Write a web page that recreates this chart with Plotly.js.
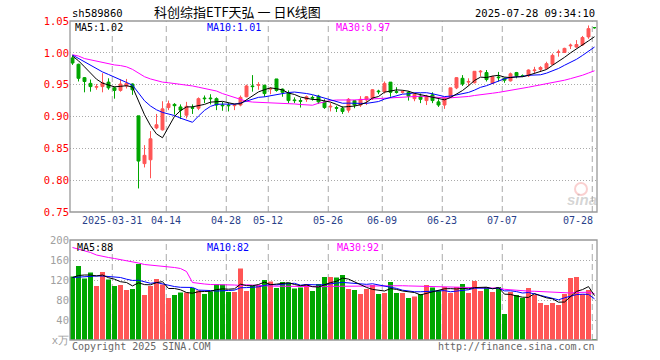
<!DOCTYPE html>
<html><head><meta charset="utf-8">
<script src="https://cdn.plot.ly/plotly-3.0.1.min.js"></script>
<style>html,body{margin:0;padding:0;background:#fff}#chart{width:660px;height:360px}</style>
</head><body><div id="chart"></div>
<script>
// ---------- data ----------
const dates = ['2025-03-20','2025-03-21','2025-03-24','2025-03-25','2025-03-26','2025-03-27','2025-03-28','2025-03-31','2025-04-01','2025-04-02',
'2025-04-03','2025-04-07','2025-04-08','2025-04-09','2025-04-10','2025-04-11','2025-04-14','2025-04-15','2025-04-16','2025-04-17',
'2025-04-18','2025-04-21','2025-04-22','2025-04-23','2025-04-24','2025-04-25','2025-04-28','2025-04-29','2025-04-30','2025-05-06',
'2025-05-07','2025-05-08','2025-05-09','2025-05-12','2025-05-13','2025-05-14','2025-05-15','2025-05-16','2025-05-19','2025-05-20',
'2025-05-21','2025-05-22','2025-05-23','2025-05-26','2025-05-27','2025-05-28','2025-05-29','2025-05-30','2025-06-03','2025-06-04',
'2025-06-05','2025-06-06','2025-06-09','2025-06-10','2025-06-11','2025-06-12','2025-06-13','2025-06-16','2025-06-17','2025-06-18',
'2025-06-19','2025-06-20','2025-06-23','2025-06-24','2025-06-25','2025-06-26','2025-06-27','2025-06-30','2025-07-01','2025-07-02',
'2025-07-03','2025-07-04','2025-07-07','2025-07-08','2025-07-09','2025-07-10','2025-07-11','2025-07-14','2025-07-15','2025-07-16',
'2025-07-17','2025-07-18','2025-07-21','2025-07-22','2025-07-23','2025-07-24','2025-07-25','2025-07-28'];

const openP = [0.992,0.982,0.961,0.952,0.946,0.947,0.954,0.945,0.941,0.948,
0.951,0.901,0.826,0.832,0.882,0.879,0.914,0.919,0.915,0.902,
0.914,0.913,0.929,0.929,0.928,0.918,0.918,0.917,0.918,0.931,
0.948,0.949,0.949,0.943,0.959,0.943,0.937,0.926,0.925,0.927,
0.930,0.932,0.923,0.915,0.914,0.913,0.910,0.925,0.918,0.926,
0.929,0.940,0.939,0.954,0.939,0.938,0.938,0.928,0.932,0.925,
0.934,0.923,0.918,0.931,0.945,0.960,0.954,0.953,0.970,0.969,
0.952,0.962,0.960,0.956,0.969,0.964,0.964,0.972,0.974,0.9755,
0.982,1.0005,1.0005,1.011,1.009,1.0125,1.025,1.0397];

const highP = [0.996,0.983,0.962,0.958,0.951,0.968,0.960,0.947,0.958,0.959,
0.952,0.901,0.855,0.877,0.904,0.924,0.925,0.921,0.919,0.923,
0.919,0.930,0.933,0.935,0.930,0.923,0.922,0.920,0.933,0.950,
0.965,0.954,0.950,0.946,0.959,0.944,0.941,0.930,0.929,0.933,
0.933,0.934,0.927,0.921,0.917,0.916,0.929,0.926,0.932,0.932,
0.943,0.942,0.955,0.954,0.946,0.941,0.940,0.937,0.936,0.934,
0.938,0.927,0.930,0.945,0.962,0.965,0.960,0.971,0.973,0.973,
0.964,0.970,0.961,0.969,0.970,0.966,0.974,0.978,0.979,0.986,
0.999,1.005,1.008,1.0145,1.020,1.0265,1.043,1.0405];

const lowP = [0.981,0.955,0.938,0.939,0.942,0.938,0.942,0.928,0.939,0.944,
0.934,0.787,0.820,0.803,0.880,0.878,0.910,0.903,0.896,0.897,
0.904,0.910,0.921,0.919,0.910,0.909,0.908,0.910,0.916,0.930,
0.939,0.942,0.931,0.935,0.939,0.931,0.921,0.921,0.914,0.923,
0.925,0.920,0.912,0.908,0.907,0.904,0.906,0.913,0.915,0.918,
0.926,0.935,0.936,0.931,0.936,0.936,0.925,0.924,0.921,0.918,
0.921,0.915,0.912,0.930,0.943,0.948,0.948,0.952,0.963,0.955,
0.951,0.955,0.953,0.955,0.960,0.962,0.962,0.968,0.970,0.974,
0.981,0.994,1.000,1.006,1.008,1.011,1.022,1.038];

const closeP = [0.984,0.960,0.955,0.947,0.947,0.953,0.945,0.941,0.951,0.952,
0.942,0.830,0.839,0.865,0.887,0.912,0.920,0.917,0.910,0.916,
0.913,0.928,0.928,0.928,0.918,0.917,0.917,0.918,0.930,0.948,
0.947,0.950,0.936,0.944,0.941,0.938,0.925,0.925,0.924,0.931,
0.929,0.923,0.914,0.916,0.913,0.908,0.927,0.918,0.927,0.931,
0.942,0.939,0.952,0.938,0.938,0.939,0.932,0.935,0.927,0.932,
0.925,0.918,0.929,0.945,0.961,0.951,0.955,0.971,0.971,0.958,
0.9625,0.961,0.957,0.967,0.964,0.963,0.973,0.973,0.977,0.983,
0.996,1.0015,1.007,1.012,1.013,1.024,1.038,1.0395];

// volume, 万 units
const volume = [127,148,123,135,108,136,121,108,110,100,
102,152,90,108,122,111,84,90,95,95,
104,99,92,97,112,111,96,96,143,98,
109,109,120,117,104,116,115,103,105,112,
98,112,126,126,125,130,102,100,92,102,
110,92,94,116,94,94,84,87,92,110,
105,99,106,94,106,112,94,118,98,106,
96,106,52,96,90,84,104,90,74,70,
74,70,92,124,126,92,100,2];

const ma5Head  = [0.995,0.9875,0.978,0.969];
const ma10Head = [0.9965,0.991,0.986,0.980,0.975,0.970,0.966,0.9615,0.957];
const ma30Head = [0.997,0.995,0.991,0.989,0.987,0.984,0.983,0.981,0.980,0.978,
0.974,0.968,0.9625,0.959,0.956,0.954,0.953,0.952,0.951,0.950,
0.948,0.946,0.944,0.942,0.940,0.936,0.933,0.930,0.927];
const vma5Head  = [125,129,130,130];
const vma10Head = [125,126,126,127,128,128,127,126,125];
const vma30Head = [185,182,179,175,170,167,165,163,161,158,
156,154,151,150,149,147,146,145,143,137,
115,113,112,111,111,111,110,110,109];

const tickDates  = ['2025-03-31','2025-04-14','2025-04-28','2025-05-12','2025-05-26','2025-06-09','2025-06-23','2025-07-07','2025-07-28'];
const tickLabels = ['2025-03-31','04-14','04-28','05-12','05-26','06-09','06-23','07-07','07-28'];
const priceTicks = [0.75,0.80,0.85,0.90,0.95,1.00,1.05];
const volTicks = [0,40,80,120,160,200];
const volTickText = ['x万','40','80','120','160','200'];

// legend texts as printed on the picture
const priceMaLabels = ['MA5:1.02','MA10:1.01','MA30:0.97'];
const volMaLabels = ['MA5:88','MA10:82','MA30:92'];

const code = 'sh589860';
const titleText = '科创综指ETF天弘 一 日K线图';
const stamp = '2025-07-28 09:34:10';

// ---------- helpers ----------
function movAvg(arr, n, head){
  return arr.map((v,i)=>{
    if(i < n-1) return head[i];
    let s=0; for(let k=i-n+1;k<=i;k++) s+=arr[k];
    return s/n;
  });
}
const idx = dates.map((d,i)=>i);
const ma5 = movAvg(closeP,5,ma5Head), ma10 = movAvg(closeP,10,ma10Head), ma30 = movAvg(closeP,30,ma30Head);
const vma5 = movAvg(volume,5,vma5Head), vma10 = movAvg(volume,10,vma10Head), vma30 = movAvg(volume,30,vma30Head);

const RED='#ff5555', GREEN='#00a600';
const W=660,H=360;
const px=v=>v/W, py=v=>1-v/H;
const X0=70, X1=597, PT=21, PB=212, VT=240, VB=340;
const xr=[-0.4167, 87.4167];
const MONO='DejaVu Sans Mono, monospace';

const volColors = idx.map(i=> closeP[i]>=openP[i] ? RED : GREEN);

const traces = [
  {type:'candlestick', x:idx, open:openP, high:highP, low:lowP, close:closeP,
   increasing:{line:{color:RED,width:1},fillcolor:RED},
   decreasing:{line:{color:GREEN,width:1},fillcolor:GREEN},
   whiskerwidth:0, hoverinfo:'skip', xaxis:'x', yaxis:'y'},
  {type:'scatter',mode:'lines',x:idx,y:ma30,line:{color:'#ff00ff',width:1},hoverinfo:'skip',xaxis:'x',yaxis:'y'},
  {type:'scatter',mode:'lines',x:idx,y:ma10,line:{color:'#0000ff',width:1},hoverinfo:'skip',xaxis:'x',yaxis:'y'},
  {type:'scatter',mode:'lines',x:idx,y:ma5,line:{color:'#000000',width:1},hoverinfo:'skip',xaxis:'x',yaxis:'y'},
  {type:'bar', x:idx, y:volume, width:0.83, marker:{color:volColors,line:{width:0}}, hoverinfo:'skip', xaxis:'x2', yaxis:'y2'},
  {type:'scatter',mode:'lines',x:idx,y:vma30,line:{color:'#ff00ff',width:1},hoverinfo:'skip',xaxis:'x2',yaxis:'y2'},
  {type:'scatter',mode:'lines',x:idx,y:vma10,line:{color:'#0000ff',width:1},hoverinfo:'skip',xaxis:'x2',yaxis:'y2'},
  {type:'scatter',mode:'lines',x:idx,y:vma5,line:{color:'#000000',width:1},hoverinfo:'skip',xaxis:'x2',yaxis:'y2'}
];

const shapes = [];
tickDates.forEach(d=>{
  const t = dates.indexOf(d) - 0.37;
  shapes.push({type:'line',xref:'x',yref:'paper',x0:t,x1:t,y0:py(PB),y1:py(PT),line:{color:'#aaaaaa',width:1,dash:'6px,4px'},layer:'below'});
  shapes.push({type:'line',xref:'x',yref:'paper',x0:t,x1:t,y0:py(VB),y1:py(VT),line:{color:'#aaaaaa',width:1,dash:'6px,4px'},layer:'below'});
});
shapes.push({type:'rect',xref:'paper',yref:'paper',x0:px(X0),x1:px(X1),y0:py(PB),y1:py(PT),line:{color:'#999999',width:1.3}});
shapes.push({type:'rect',xref:'paper',yref:'paper',x0:px(X0),x1:px(X1),y0:py(VB),y1:py(VT),line:{color:'#999999',width:1.3}});
shapes.push({type:'circle',xref:'paper',yref:'paper',x0:px(575),x1:px(587),y0:py(195),y1:py(183),line:{color:'rgba(240,120,120,0.35)',width:2},layer:'below'});

const ann = [];
function txt(text,x,y,anchor,color,size,family){
  ann.push({text:text,xref:'paper',yref:'paper',x:px(x),y:py(y),xanchor:anchor,yanchor:'middle',showarrow:false,
    font:{family:family||MONO,size:size||10,color:color||'#000'}});
}
txt(code,70,13,'left','#000',10.5);
txt(titleText,237,12,'center','#000',13,'Noto Sans CJK SC');
txt(stamp,597,13,'right','#000',10.5);
txt(priceMaLabels[0],73,28,'left','#000');
txt(priceMaLabels[1],205,28,'left','#0000ff');
txt(priceMaLabels[2],334,28,'left','#ff00ff');
txt(volMaLabels[0],75,247,'left','#000');
txt(volMaLabels[1],205,247,'left','#0000ff');
txt(volMaLabels[2],335,247,'left','#ff00ff');
txt('Copyright 2025 SINA.COM',70,346,'left','#666');
txt('http://finance.sina.com.cn',597,346,'right','#666');
txt('<b><i>sina</i></b>',582,199,'center','rgba(160,160,160,0.45)',15,'Liberation Sans');
tickDates.forEach((d,k)=>{
  const t = dates.indexOf(d) - 0.37;
  if(k===tickDates.length-1){
    ann.push({text:tickLabels[k],xref:'paper',yref:'paper',x:px(595),y:py(220),xanchor:'right',yanchor:'middle',showarrow:false,font:{family:MONO,size:10,color:'#2a3f8a'}});
  } else {
    ann.push({text:tickLabels[k],xref:'x',yref:'paper',x:t,y:py(220),xanchor:'center',yanchor:'middle',showarrow:false,font:{family:MONO,size:10,color:'#2a3f8a'}});
  }
});

const layout = {
  width:W,height:H,margin:{l:0,r:0,t:0,b:0},paper_bgcolor:'#fff',plot_bgcolor:'#fff',showlegend:false,
  hovermode:false,
  xaxis:{domain:[px(X0),px(X1)],range:xr,anchor:'y',showgrid:false,zeroline:false,showticklabels:false,ticks:'',rangeslider:{visible:false},fixedrange:true},
  xaxis2:{domain:[px(X0),px(X1)],range:xr,anchor:'y2',showgrid:false,zeroline:false,showticklabels:false,ticks:'',fixedrange:true},
  yaxis:{domain:[py(PB),py(PT)],range:[0.75,1.05],anchor:'x',tickvals:priceTicks,tickformat:'.2f',
    tickfont:{family:MONO,size:10.5,color:'#ff0000'},showgrid:true,gridcolor:'#aaaaaa',griddash:'1px,2px',gridwidth:1,zeroline:false,ticks:'',fixedrange:true},
  yaxis2:{domain:[py(VB),py(VT)],range:[0,200],anchor:'x2',tickvals:volTicks,ticktext:volTickText,
    tickfont:{family:MONO,size:10.5,color:'#a0a0a0'},showgrid:true,gridcolor:'#aaaaaa',griddash:'1px,2px',gridwidth:1,zeroline:false,ticks:'',fixedrange:true},
  shapes:shapes, annotations:ann
};
Plotly.newPlot('chart',traces,layout,{staticPlot:true,displayModeBar:false});
</script></body></html>
